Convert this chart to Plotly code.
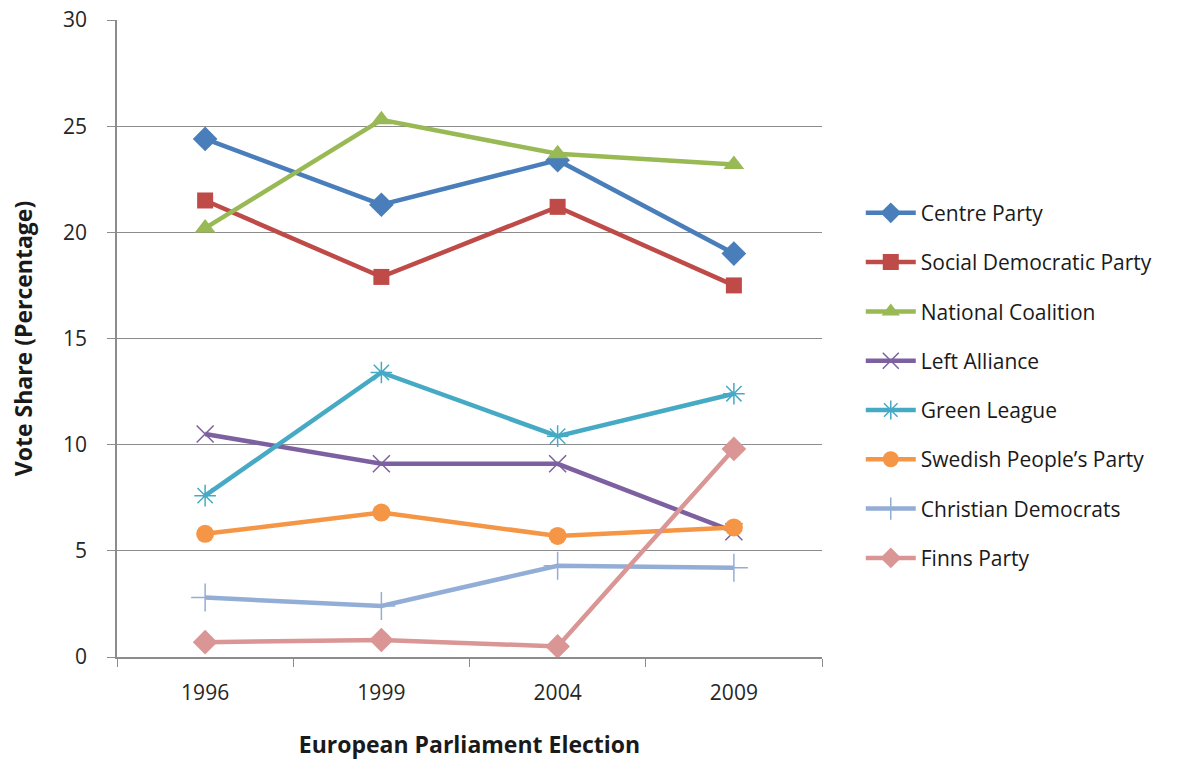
import plotly.graph_objects as go

years = ["1996", "1999", "2004", "2009"]
centre = [24.4, 21.3, 23.4, 19.0]
sdp = [21.5, 17.9, 21.2, 17.5]
national = [20.2, 25.3, 23.7, 23.2]
left = [10.5, 9.1, 9.1, 5.9]
green = [7.6, 13.4, 10.4, 12.4]
swedish = [5.8, 6.8, 5.7, 6.1]
christian = [2.8, 2.4, 4.3, 4.2]
finns = [0.7, 0.8, 0.5, 9.8]

series = [
    ("Centre Party", centre, "#4A7EBB", "diamond", 19, None),
    ("Social Democratic Party", sdp, "#BE4B48", "square", 16, None),
    ("National Coalition", national, "#98B954", "triangle-up", 18, None),
    ("Left Alliance", left, "#7D60A0", "x-thin", 17, 1.5),
    ("Green League", green, "#46AAC5", "asterisk", 18, 1.5),
    ("Swedish People\u2019s Party", swedish, "#F59646", "circle", 18, None),
    ("Christian Democrats", christian, "#93AED6", "cross-thin", 20, 1.5),
    ("Finns Party", finns, "#D99694", "diamond", 19, None),
]

fig = go.Figure()
for i, (name, vals, col, sym, sz, lw) in enumerate(series):
    mk = dict(symbol=sym, size=sz, color=col)
    if lw is not None:
        mk["line"] = dict(color=col, width=lw)
    else:
        mk["line"] = dict(width=0)
    fig.add_trace(go.Scatter(
        x=years, y=vals, name=name, mode="lines+markers",
        line=dict(color=col, width=4.5), marker=mk, legendgroup=str(i),
    ))

fig.update_layout(
    width=1185, height=761,
    margin=dict(l=117, r=363, t=20, b=104),
    paper_bgcolor="white", plot_bgcolor="white",
    font=dict(family="Open Sans, Noto Sans, sans-serif", color="#262626", size=16),
    legend=dict(x=1.055, y=0.729, xanchor="left", yanchor="top",
                font=dict(size=21, color="#1a1a1a"), tracegroupgap=19,
                itemwidth=50, bgcolor="rgba(0,0,0,0)"),
    showlegend=True,
)
fig.update_xaxes(
    type="category", range=[-0.5, 3.5], showgrid=False, showline=True,
    linecolor="#8c8c8c", linewidth=1.5, automargin=False,
    ticks="outside", tickson="boundaries", ticklen=8, tickcolor="#8c8c8c",
    ticklabelstandoff=16,
    tickfont=dict(size=21, color="#262626"),
    title=dict(text="<b>European Parliament Election</b>", font=dict(size=23, color="#1a1a1a"), standoff=32),
)
fig.update_yaxes(
    range=[0, 30], dtick=5, showgrid=True, gridcolor="#8c8c8c", gridwidth=1.2,
    showline=True, linecolor="#8c8c8c", linewidth=1.5, ticks="outside", ticklen=8,
    automargin=False, ticklabelstandoff=16,
    tickcolor="#8c8c8c", tickfont=dict(size=21, color="#262626"), zeroline=False,
    title=dict(text="<b>Vote Share (Percentage)</b>", font=dict(size=23, color="#1a1a1a"), standoff=24),
)

fig.write_html("out.html")
